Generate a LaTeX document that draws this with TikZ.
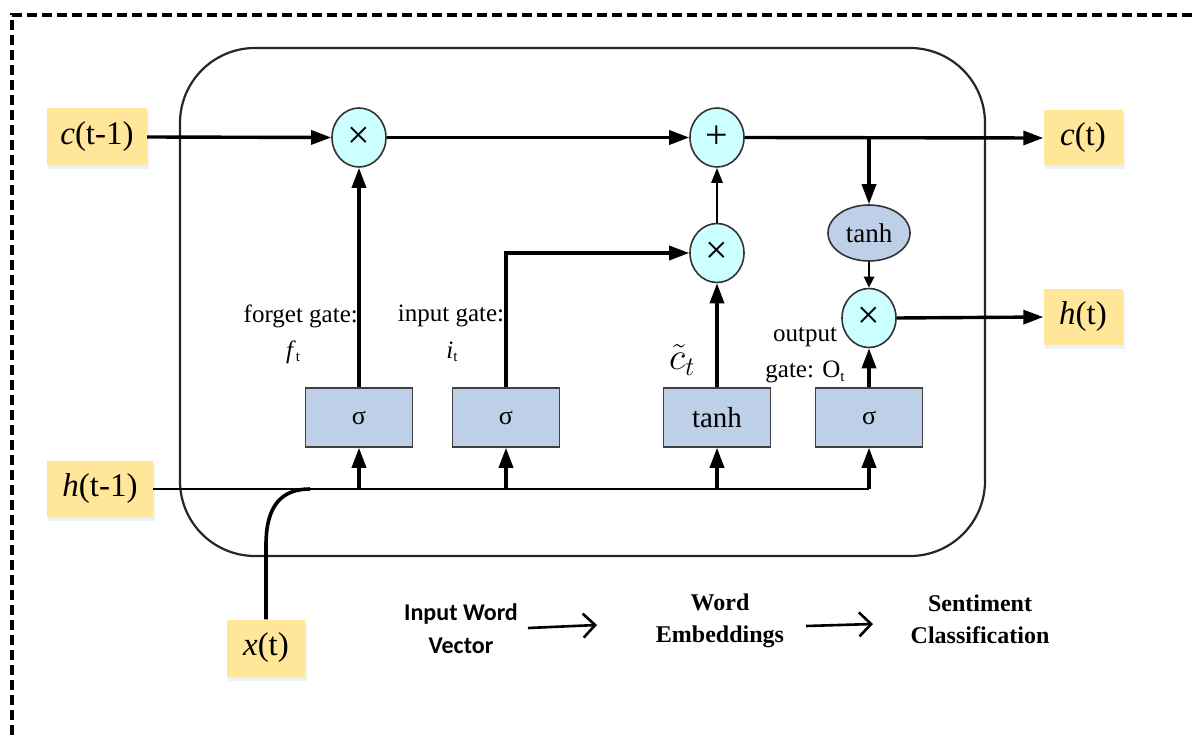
\RequirePackage{fix-cm}
\documentclass[tikz,border=0pt]{standalone}
\usepackage{fontspec}
\setmainfont{Liberation Serif}
\newfontfamily\calibri{Carlito}
\usetikzlibrary{arrows.meta,shapes.geometric}

\definecolor{termfill}{HTML}{FFE699}
\definecolor{opfill}{HTML}{CCFFFF}
\definecolor{gatefill}{HTML}{BDD0E8}
\definecolor{shadowc}{HTML}{EAF1FA}

\newcommand{\fs}[1]{\fontsize{#1}{#1}\selectfont}
\newcommand{\lowsub}[1]{\raisebox{-0.3ex}{\fs{15}#1}}

\tikzset{
  term/.style={fill=termfill, inner sep=0pt, font=\fs{33}},
  op/.style={ellipse, draw=black!80, line width=1.6pt, fill=opfill,
             minimum width=54pt, minimum height=59pt, inner sep=0pt, font=\fs{40}},
  gate/.style={rectangle, draw=black!75, line width=1.5pt, fill=gatefill,
               minimum width=107pt, minimum height=59pt, inner sep=0pt, font=\fs{26}},
  lbl/.style={inner sep=0pt, font=\fs{25}},
  flow/.style={line width=3.4pt, -{Triangle[length=20pt,width=14pt]}},
  lightflow/.style={line width=2.6pt, -{Triangle[length=15pt,width=11pt]}},
  thin/.style={line width=2.4pt},
  curve/.style={line width=3.6pt},
  small/.style={line width=2.6pt, -{Triangle[length=11pt,width=10pt]}},
  seq/.style={line width=2.6pt, -{Straight Barb[length=12pt,width=24pt,line width=2.6pt]}},
  caption/.style={inner sep=0pt, align=center, font=\fs{24}\bfseries}
}

\begin{document}
\begin{tikzpicture}[x=1pt,y=-1pt]
\useasboundingbox (0,0) rectangle (1192,738);
\clip (0,0) rectangle (1192,738);

% outer dashed frame
\draw[line width=3.4pt, dash pattern=on 10pt off 5pt] (12,750) -- (12,15) -- (1210,15);

% cell body
\draw[line width=2.2pt, rounded corners=75pt, draw=black!85] (180,48) rectangle (985,556);

% soft shadows under the terminals
\foreach \cx/\cy/\w/\h in {97/137/100/57, 100/489/106/56, 266/648/78/57, 1083/138/79/55, 1083/317/79/56}
  \fill[shadowc] (\cx-\w/2+1,\cy-\h/2+3) rectangle (\cx+\w/2+2,\cy+\h/2+4);

% terminals
\node[term, minimum width=100pt, minimum height=57pt] (cprev) at (97,137) {\textit{c}(t-1)};
\node[term, minimum width=106pt, minimum height=56pt] (hprev) at (100,489) {\textit{h}(t-1)};
\node[term, minimum width=78pt,  minimum height=57pt] (xt)    at (266,648) {\textit{x}(t)};
\node[term, minimum width=79pt,  minimum height=55pt] (ct)    at (1083,138) {\textit{c}(t)};
\node[term, minimum width=79pt,  minimum height=56pt] (ht)    at (1083,317) {\textit{h}(t)};

% pointwise operations
\node[op] (m1)  at (359,137.5) {×};
\node[op] (add) at (717,137.5) {+};
\node[op] (m2)  at (717,253) {×};
\node[op] (m3)  at (869,318) {×};
\node[ellipse, draw=black!80, line width=1.6pt, fill=gatefill, minimum width=82pt,
      minimum height=56pt, inner sep=0pt, font=\fs{27}] (tE) at (869,233) {tanh};

% gate layers
\node[gate] (s1) at (359,417.5) {σ};
\node[gate] (s2) at (506,417.5) {σ};
\node[gate, font=\fs{29}] (tb) at (717,417.5) {tanh};
\node[gate] (s3) at (869,417.5) {σ};

% hidden-state bus and input
\coordinate (hend) at (869,489);
\coordinate (xjoin) at (310,489);
\draw[thin] (hprev.east) -- (hend);
\draw[curve] (xt.north) -- (266,545) .. controls (266,505) and (282,489) .. (xjoin);
\foreach \g in {s1,s2,tb,s3}
  \draw[flow] (\g.south |- hend) -- (\g.south);

% cell-state path
\draw[flow] (cprev.east) -- (m1.west);
\draw[flow] (m1.east) -- (add.west);
\draw[flow] (add.east) -- (ct.west);
\coordinate (tap) at (869,138);
\draw[flow] (tap) -- (tE.north);
\draw[small] (tE.south) -- (m3.north);

% gate outputs
\draw[flow] (s1.north) -- (m1.south);
\draw[flow] (s2.north) |- (m2.west);
\draw[flow] (tb.north) -- (m2.south);
\draw[lightflow] (m2.north) -- (add.south);
\draw[flow] (s3.north) -- (m3.south);
\draw[flow] (m3.east) -- (ht.west);

% gate labels
\node[lbl, anchor=east] (lf) at (358,316) {forget gate:};
\node[lbl] (lft) at (293,352) {\textit{f}\lowsub{t}};
\node[lbl] (li) at (451,316) {input gate:};
\node[lbl] (lit) at (452,352) {\textit{i}\lowsub{t}};
\node[lbl, font=\fs{38}] (lc) at (682,360) {$\tilde{c}_t$};
\node[lbl] (lo1) at (805,337) {output};
\node[lbl] (lo2) at (805,372) {gate: O\lowsub{t}};

% processing pipeline
\node[caption, font=\fs{24}\calibri\bfseries] (p1) at (461,629) {Input Word\\[9pt]Vector};
\node[caption] (p2) at (720,621) {Word\\[8pt]Embeddings};
\node[caption] (p3) at (980,619) {Sentiment\\[8pt]Classification};
\coordinate (a1s) at (528,628);
\coordinate (a1e) at (597,625);
\coordinate (a2s) at (806,626);
\coordinate (a2e) at (873,624);
\draw[seq] (a1s) -- (a1e);
\draw[seq] (a2s) -- (a2e);
\end{tikzpicture}
\end{document}
